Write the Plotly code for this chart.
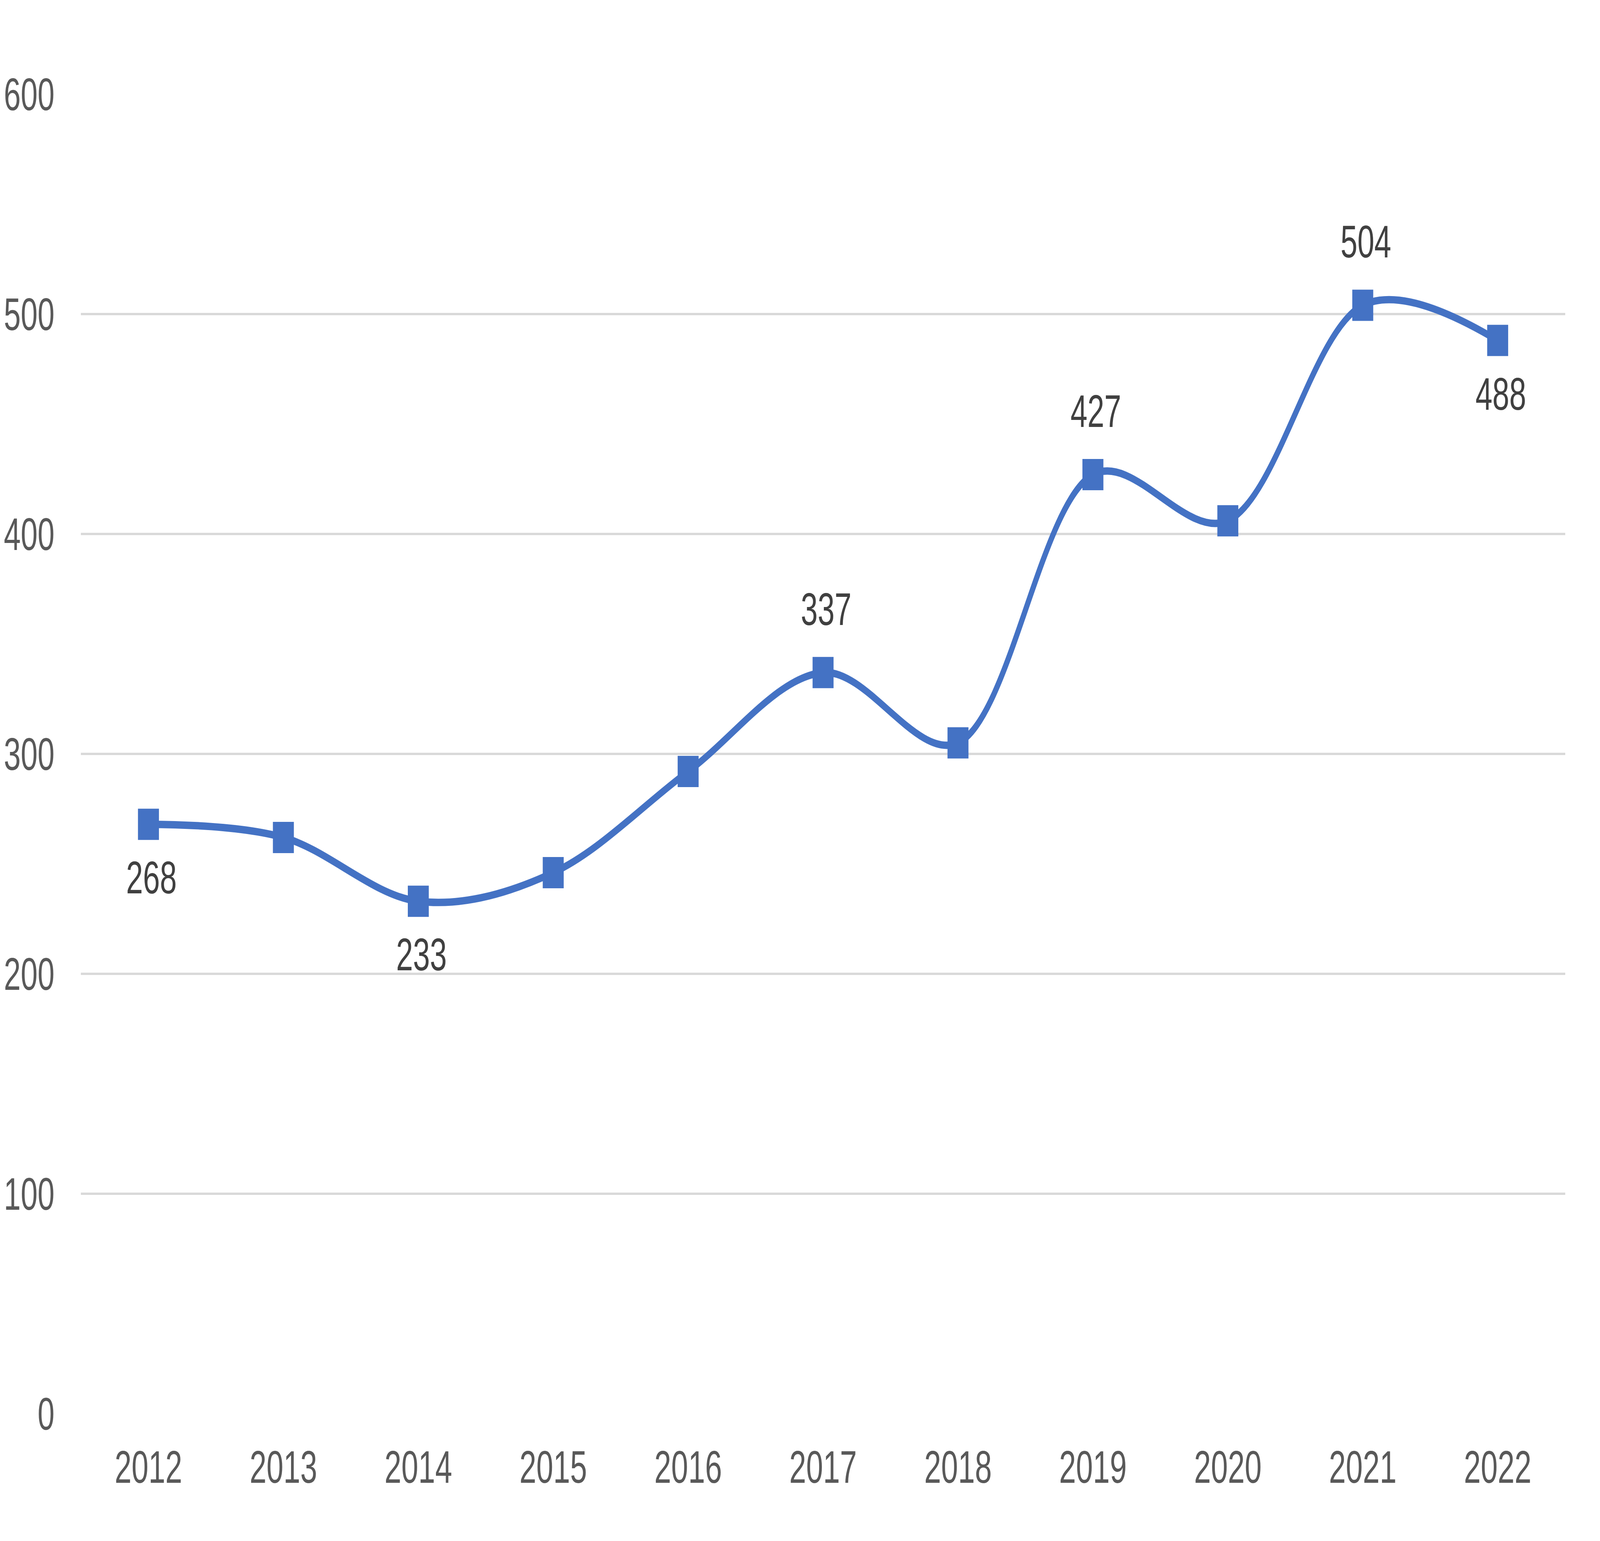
import plotly.graph_objects as go

years = ["2012", "2013", "2014", "2015", "2016", "2017", "2018", "2019", "2020", "2021", "2022"]
values = [268, 262, 233, 246, 292, 337, 305, 427, 406, 504, 488]
label_side = ["below", "", "below", "", "", "above", "", "above", "", "above", "below"]
y_ticks = [0, 100, 200, 300, 400, 500, 600]

FONT = "Liberation Sans, Arial, sans-serif"
BLUE = "#4472C4"
W, H = 6104, 3945

fig = go.Figure()
fig.add_trace(go.Scatter(
    x=years, y=values, mode="lines+markers",
    line=dict(color=BLUE, width=19, shape="spline", smoothing=1.0),
    marker=dict(symbol="square", size=80, color=BLUE),
    hoverinfo="skip", showlegend=False,
))

annotations = []
for i, (v, side) in enumerate(zip(values, label_side)):
    if not side:
        continue
    annotations.append(dict(
        x=i, y=v, xref="x", yref="y", text=str(v), showarrow=False,
        xanchor="center", yanchor="middle", xshift=12,
        yshift=162 if side == "above" else -137,
        font=dict(family=FONT, size=116, color="#404040"),
    ))

fig.update_layout(
    width=W, height=H,
    margin=dict(l=309, r=133, t=241, b=326, pad=0),
    paper_bgcolor="white", plot_bgcolor="white",
    font=dict(family=FONT, size=116, color="#595959"),
    annotations=annotations,
    xaxis=dict(
        type="category", range=[-0.5, 10.5], showgrid=False, zeroline=False,
        showline=False, ticks="", ticklabelstandoff=60,
        tickfont=dict(family=FONT, size=116, color="#595959"),
    ),
    yaxis=dict(
        range=[0, 600], tickvals=y_ticks, showgrid=True, gridcolor="#D9D9D9",
        gridwidth=6, zeroline=False, showline=False, ticks="",
        ticklabelstandoff=100,
        tickfont=dict(family=FONT, size=116, color="#595959"),
    ),
)

# Fit the fixed-size figure into the browser viewport if it is smaller.
post = """
var gd = document.getElementById('{plot_id}');
document.body.style.margin = '0';
document.documentElement.style.overflow = 'hidden';
document.body.style.overflow = 'hidden';
var sx = Math.min(1, window.innerWidth / %d);
var sy = Math.min(1, window.innerHeight / %d);
if (sx < 1 || sy < 1) {
  gd.style.transformOrigin = '0 0';
  gd.style.transform = 'scale(' + sx + ',' + sy + ')';
}
""" % (W, H)
fig.write_html("out.html", post_script=post, config={"displayModeBar": False, "staticPlot": True})
